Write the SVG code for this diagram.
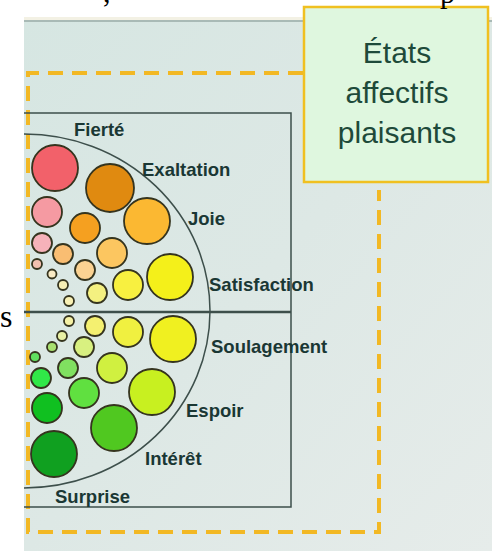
<svg xmlns="http://www.w3.org/2000/svg" width="492" height="551" viewBox="0 0 492 551">
<defs>
<linearGradient id="bg" x1="0" y1="0" x2="1" y2="1">
<stop offset="0" stop-color="#d6e6e2"/>
<stop offset="0.5" stop-color="#dde8e5"/>
<stop offset="1" stop-color="#e6ecea"/>
</linearGradient>
<style>
.lbl{font-family:"Liberation Sans",Arial,sans-serif;font-weight:bold;font-size:18.5px;fill:#1a3734}
.box{font-family:"Liberation Sans",Arial,sans-serif;font-size:30px;fill:#1e4a3a;text-anchor:middle}
.ser{font-family:"Liberation Serif","Times New Roman",serif;fill:#000}
.c{stroke:#35341e;stroke-width:1.8}
.frame{fill:none;stroke:#3d4f4b;stroke-width:1.5}
.dash{fill:none;stroke:#f2b824;stroke-width:4;stroke-dasharray:15 9}
</style>
</defs>
<rect width="492" height="551" fill="#ffffff"/>
<rect x="24" y="17" width="468" height="534" fill="url(#bg)"/>
<rect x="24" y="17" width="468" height="3" fill="#f3f1e4"/>
<rect x="24" y="20" width="468" height="2" fill="#a9bab6"/>

<g id="frame">
<path class="dash" d="M303 73 H28 V532 H379 V190"/>
<path class="frame" d="M24 113 H291 V507 H24"/>
<path d="M24 312 H291" stroke="#3d4f4b" stroke-width="2.5"/>
<path class="frame" d="M24 134 A186 177 0 0 1 24 488"/>
</g>

<g id="circles">
<circle class="c" cx="55" cy="168" r="23" fill="#f2616a"/>
<circle class="c" cx="110" cy="188" r="24" fill="#e08a10"/>
<circle class="c" cx="47" cy="212" r="15" fill="#f59aa2"/>
<circle class="c" cx="85" cy="228" r="15" fill="#f5a020"/>
<circle class="c" cx="147" cy="221" r="23" fill="#fbb832"/>
<circle class="c" cx="42" cy="243" r="10" fill="#f6b2ba"/>
<circle class="c" cx="63" cy="254" r="10" fill="#f9bd72"/>
<circle class="c" cx="112" cy="253" r="15" fill="#fcc660"/>
<circle class="c" cx="37" cy="264" r="5" fill="#f3c0b0"/>
<circle class="c" cx="85" cy="270" r="10" fill="#fbd292"/>
<circle class="c" cx="170" cy="277" r="23" fill="#f4f01a"/>
<circle class="c" cx="52" cy="274" r="4.5" fill="#f8eac4"/>
<circle class="c" cx="63" cy="285" r="5" fill="#f6eeb4"/>
<circle class="c" cx="128" cy="285" r="15" fill="#f8f040"/>
<circle class="c" cx="97" cy="293" r="10" fill="#f4f080"/>
<circle class="c" cx="69" cy="301" r="5" fill="#f8f0b4"/>
<circle class="c" cx="69" cy="321" r="5" fill="#f4f0a4"/>
<circle class="c" cx="95" cy="326" r="10" fill="#f4f070"/>
<circle class="c" cx="128" cy="332" r="15" fill="#f0f040"/>
<circle class="c" cx="173" cy="339" r="23" fill="#f0f020"/>
<circle class="c" cx="62" cy="336" r="5" fill="#e8f0a4"/>
<circle class="c" cx="52" cy="347" r="5" fill="#a8e070"/>
<circle class="c" cx="84" cy="347" r="10" fill="#d8f080"/>
<circle class="c" cx="35" cy="357" r="5" fill="#60e060"/>
<circle class="c" cx="68" cy="368" r="10" fill="#80e060"/>
<circle class="c" cx="112" cy="368" r="15" fill="#d0f040"/>
<circle class="c" cx="41" cy="378" r="10" fill="#30e848"/>
<circle class="c" cx="152" cy="392" r="23" fill="#c8f020"/>
<circle class="c" cx="84" cy="393" r="15" fill="#60e040"/>
<circle class="c" cx="47" cy="408" r="15" fill="#10c020"/>
<circle class="c" cx="114" cy="428" r="23" fill="#50c820"/>
<circle class="c" cx="54" cy="454" r="23" fill="#10a020"/>
</g>

<g id="labels">
<text class="lbl" x="74" y="136">Fierté</text>
<text class="lbl" x="142" y="176">Exaltation</text>
<text class="lbl" x="188" y="225">Joie</text>
<text class="lbl" x="209" y="291">Satisfaction</text>
<text class="lbl" x="211" y="353">Soulagement</text>
<text class="lbl" x="186" y="417">Espoir</text>
<text class="lbl" x="145" y="465">Intérêt</text>
<text class="lbl" x="55" y="503">Surprise</text>
</g>

<g id="node-etats">
<rect x="304" y="7" width="184" height="175" fill="#dff7df" stroke="#f0c020" stroke-width="2.5"/>
<text class="box" x="397" y="63">États</text>
<text class="box" x="397" y="103">affectifs</text>
<text class="box" x="397" y="143">plaisants</text>
</g>

<rect x="0" y="0" width="24" height="551" fill="#ffffff"/>
<text class="ser" x="0" y="327" font-size="32">s</text>
<text class="ser" x="103" y="2" font-size="30">,</text>
<text class="ser" x="440" y="3" font-size="30">p</text>
</svg>
